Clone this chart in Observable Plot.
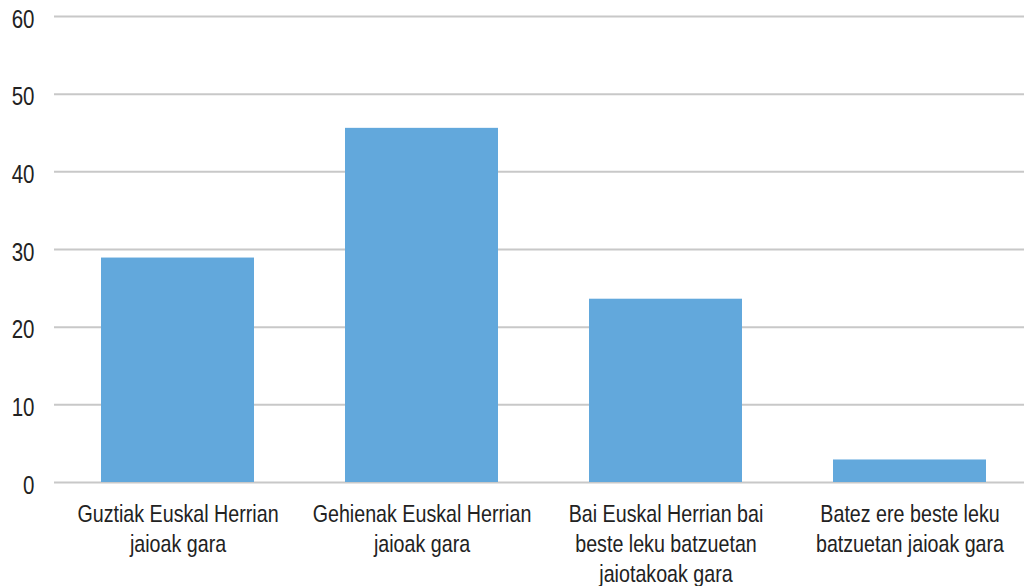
<!DOCTYPE html>
<html>
<head>
<meta charset="utf-8">
<script src="https://cdn.jsdelivr.net/npm/d3@7"></script>
<script src="https://cdn.jsdelivr.net/npm/@observablehq/plot@0.6"></script>
<style>
  html, body { margin: 0; padding: 0; background: #ffffff; overflow: hidden; }
</style>
</head>
<body>
<div id="chart"></div>
<script>
const categories = [
  "Guztiak Euskal Herrian jaioak gara",
  "Gehienak Euskal Herrian jaioak gara",
  "Bai Euskal Herrian bai beste leku batzuetan jaiotakoak gara",
  "Batez ere beste leku batzuetan jaioak gara"
];
const tickLabels = [
  "Guztiak Euskal Herrian\njaioak gara",
  "Gehienak Euskal Herrian\njaioak gara",
  "Bai Euskal Herrian bai\nbeste leku batzuetan\njaiotakoak gara",
  "Batez ere beste leku\nbatzuetan jaioak gara"
];
const values = [28.9, 45.6, 23.6, 2.9];
const yTicks = [0, 10, 20, 30, 40, 50, 60];

const data = categories.map((c, i) => ({category: c, value: values[i]}));
const labelOf = new Map(categories.map((c, i) => [c, tickLabels[i]]));

const chart = Plot.plot({
  width: 1024,
  height: 586,
  marginTop: 16,
  marginBottom: 104,
  marginLeft: 54,
  marginRight: 0,
  style: {
    fontFamily: "'Liberation Sans', Arial, sans-serif",
    color: "#222222",
    background: "#ffffff"
  },
  x: {domain: categories, range: [54, 1033], paddingInner: 0.375, paddingOuter: 0.1875, label: null},
  y: {domain: [0, 60], label: null},
  marks: [
    Plot.ruleY(yTicks, {stroke: "#c8c8c8", strokeWidth: 2}),
    Plot.barY(data, {x: "category", y: "value", fill: "#62a8dc"}),
    Plot.axisY(yTicks, {tickSize: 0, tickPadding: 20, fontSize: 25, dy: 3, label: null, fill: "#222222"}),
    Plot.axisX({tickSize: 0, tickPadding: 18, fontSize: 24, lineHeight: 1.25, tickFormat: d => labelOf.get(d), label: null, fill: "#222222"})
  ]
});
// narrow (condensed) look: squeeze tick label glyphs horizontally around their anchor
chart.querySelectorAll("g[aria-label$='tick label'] text").forEach(t => {
  const tr = t.getAttribute("transform") || "";
  t.setAttribute("transform", tr + " scale(0.82,1)");
});
document.getElementById("chart").appendChild(chart);
</script>
</body>
</html>
